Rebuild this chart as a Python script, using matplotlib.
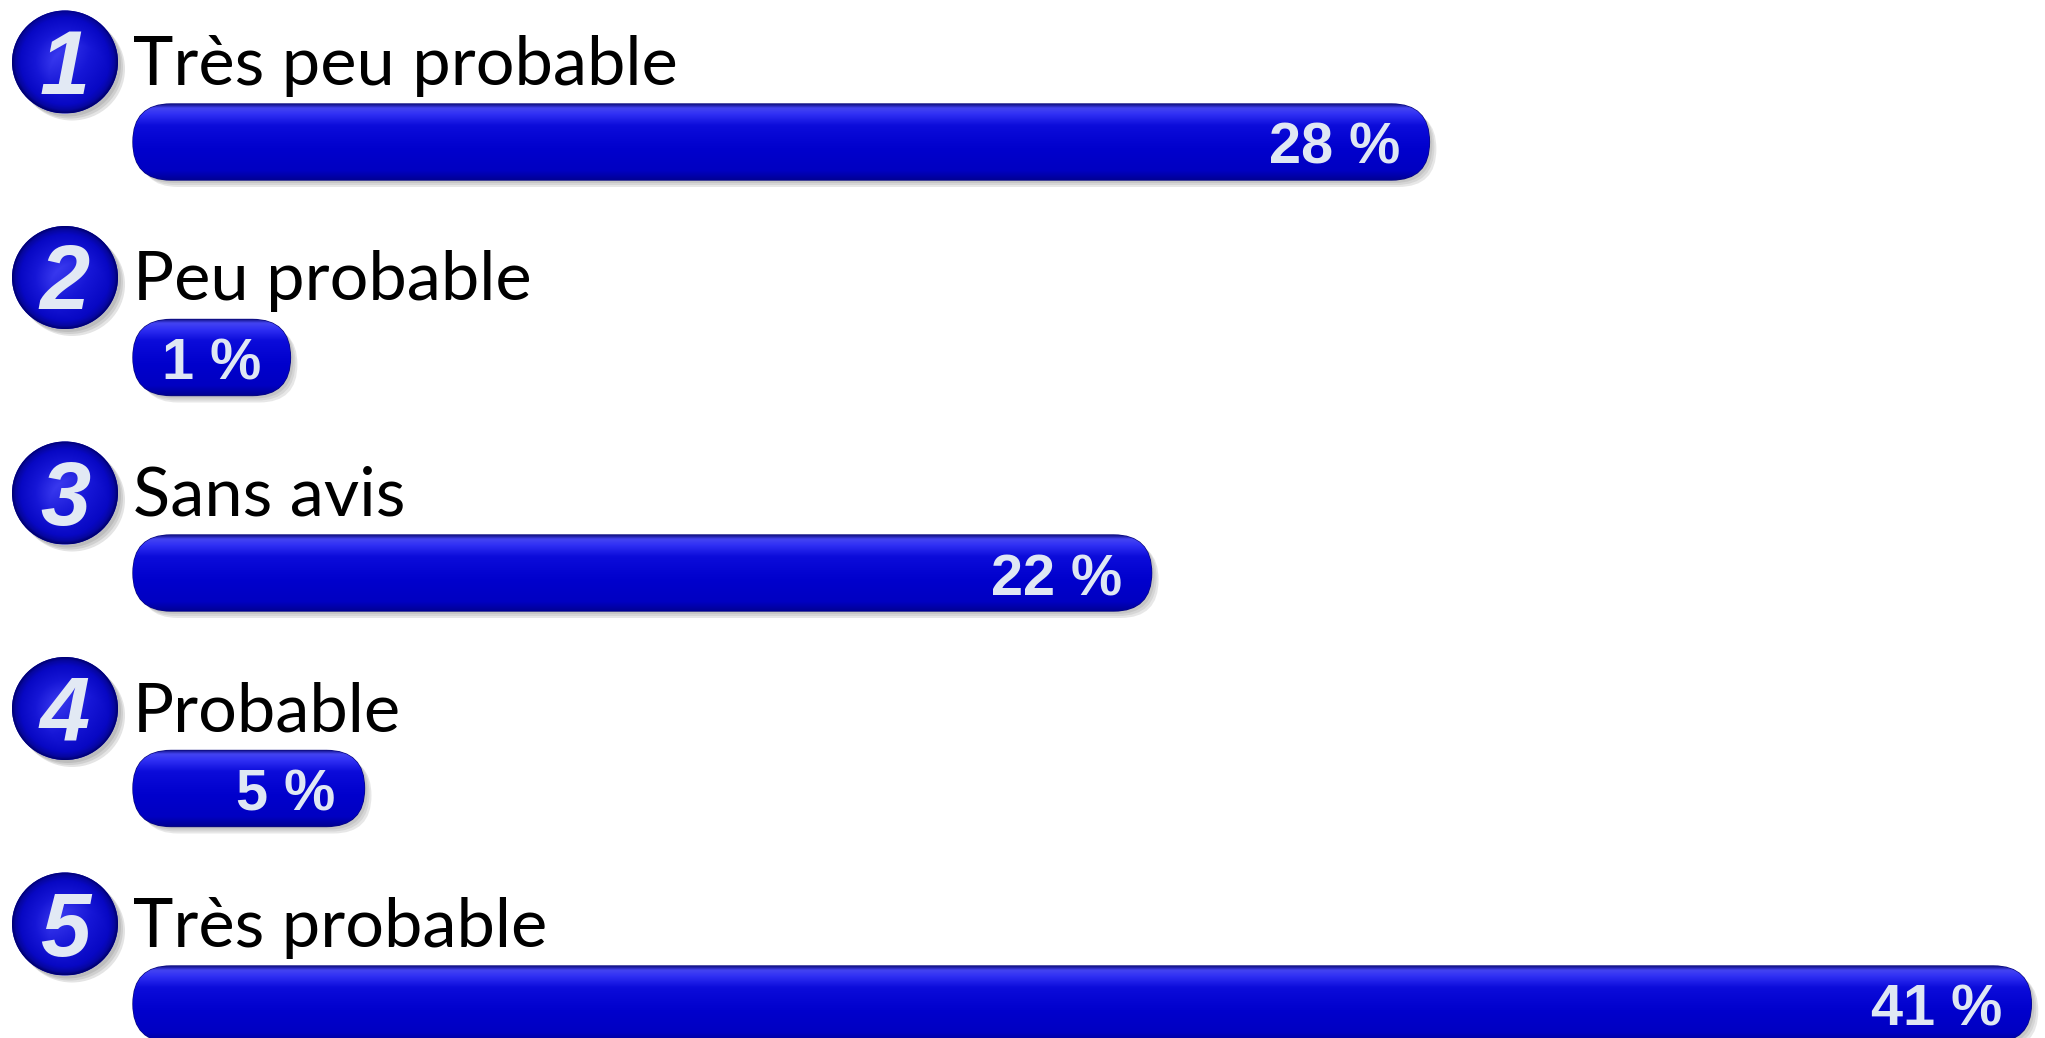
import numpy as np
import matplotlib
matplotlib.use("Agg")
import matplotlib.pyplot as plt
from matplotlib.patches import FancyBboxPatch, Ellipse
from matplotlib.colors import LinearSegmentedColormap

# data
categories = ["Très peu probable", "Peu probable", "Sans avis", "Probable", "Très probable"]
values = [28, 1, 22, 5, 41]
value_labels = ["28 %", "1 %", "22 %", "5 %", "41 %"]
numbers = ["1", "2", "3", "4", "5"]

# layout (pixels of the 2045x1038 output)
W, H = 2045, 1038
X0_PX = 133          # left edge of bars
PX_PER_PCT = 46.3    # bar length per percent
ROW0_PX = 142        # centre of first bar
ROW_PX = 215.5       # spacing between rows
BAR_H_PX = 76
MIN_W = 3.4          # minimum bar length so the label fits

fig = plt.figure(figsize=(W / 100, H / 100), dpi=100)
ax = fig.add_axes([0, 0, 1, 1])
xlim = (-X0_PX / PX_PER_PCT, (W - X0_PX) / PX_PER_PCT)
ylim = ((H - ROW0_PX) / ROW_PX, -ROW0_PX / ROW_PX)
ax.axis("off")

bar_h = BAR_H_PX / ROW_PX
r_x = (BAR_H_PX / 2) / PX_PER_PCT
asp = PX_PER_PCT / ROW_PX

bar_cmap = LinearSegmentedColormap.from_list("bar", [
    (0.0, "#14148a"), (0.05, "#4444f2"), (0.13, "#3030f4"), (0.28, "#0c0cda"),
    (0.6, "#0000cc"), (0.88, "#0000c2"), (1.0, "#000096")])
ball_cmap = LinearSegmentedColormap.from_list("ball", [
    (0.0, "#3838ee"), (0.45, "#1616d6"), (0.8, "#0808c4"), (0.93, "#06069e"), (1.0, "#000070")])

grad = np.linspace(0, 1, 200).reshape(-1, 1)

for i, (cat, v, lab, num) in enumerate(zip(categories, values, value_labels, numbers)):
    w = max(v, MIN_W)
    top = i - bar_h / 2

    # shadow
    for k, a in enumerate([0.10, 0.10, 0.12]):
        off = (3 + k * 2)
        sh = FancyBboxPatch((off / PX_PER_PCT, top + off / ROW_PX), w, bar_h,
                            boxstyle=f"round,pad=0,rounding_size={r_x}",
                            mutation_aspect=asp, fc="#404040", ec="none", alpha=a, zorder=1)
        ax.add_patch(sh)

    bar = FancyBboxPatch((0, top), w, bar_h, boxstyle=f"round,pad=0,rounding_size={r_x}",
                         mutation_aspect=asp, fc="#0606cc", ec="#0a0a80", lw=1.0, zorder=2)
    ax.add_patch(bar)
    im = ax.imshow(grad, cmap=bar_cmap, extent=(0, w, i + bar_h / 2, top),
                   origin="upper", aspect="auto", zorder=3, interpolation="bilinear")
    im.set_clip_path(bar)

    ax.text(w - 29 / PX_PER_PCT, i + 22 / ROW_PX, lab, ha="right", va="baseline",
            fontsize=41.5, fontweight="bold", family="Liberation Sans", color="#dfe7f3", zorder=5)

    # category label
    ax.text(0, i - 57 / ROW_PX, cat, ha="left", va="baseline", fontsize=49.3,
            family="Lato", color="black", zorder=5)

    # numbered ball
    cx = (65 - X0_PX) / PX_PER_PCT
    cy = i - 80 / ROW_PX
    ew, eh = 106 / PX_PER_PCT, 103 / ROW_PX
    for k, a in enumerate([0.12, 0.12, 0.14]):
        off = 3 + k * 2
        ax.add_patch(Ellipse((cx + off / PX_PER_PCT, cy + off / ROW_PX), ew, eh,
                             fc="#404040", ec="none", alpha=a, zorder=1))
    ball = Ellipse((cx, cy), ew, eh, fc="#1010d0", ec="none", zorder=2)
    ax.add_patch(ball)
    yy, xx = np.mgrid[-1:1:200j, -1:1:200j]
    rad = np.sqrt((xx + 0.35) ** 2 + (yy + 0.35) ** 2) / 1.55
    rad = np.clip(np.maximum(rad, np.sqrt(xx ** 2 + yy ** 2)), 0, 1)
    bim = ax.imshow(rad, cmap=ball_cmap, extent=(cx - ew / 2, cx + ew / 2, cy + eh / 2, cy - eh / 2),
                    origin="upper", aspect="auto", zorder=3, interpolation="bilinear")
    bim.set_clip_path(ball)
    ax.text(cx, cy + 32 / ROW_PX, num, ha="center", va="baseline", fontsize=65,
            fontweight="bold", fontstyle="italic", family="Liberation Sans",
            color="#e2e9f4", zorder=5)

ax.set_xlim(*xlim)
ax.set_ylim(*ylim)

fig.savefig("out.png", dpi=100, facecolor="white")
